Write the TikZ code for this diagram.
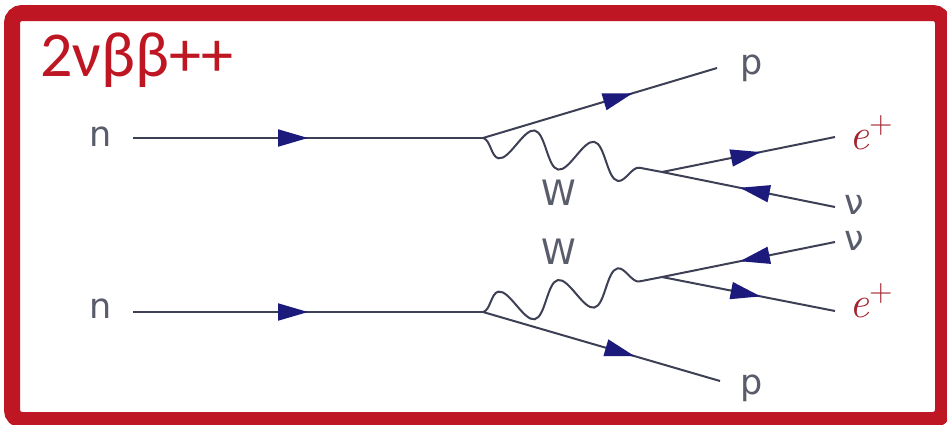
\documentclass[tikz,border=0pt]{standalone}
\usepackage{fontspec}
\setmainfont{DejaVu Sans}
\newfontfamily\titlefont{Carlito}
\newfontfamily\mathlikefont{Latin Modern Roman}
\newcommand{\eplus}{{\itshape e}\raisebox{16pt}{\fontsize{32}{32}\selectfont +}}
\usetikzlibrary{arrows.meta,decorations.markings,decorations.pathmorphing}
\definecolor{framered}{HTML}{BE1622}
\definecolor{posred}{HTML}{A2242F}
\definecolor{labelgray}{HTML}{595C6A}
\definecolor{linegray}{HTML}{3D4055}
\definecolor{arrownavy}{HTML}{1C1A7A}

\begin{document}
\begin{tikzpicture}[x=1pt,y=-1pt,
  every node/.style={font=\fontsize{35}{35}\selectfont,text=labelgray,inner sep=0pt},
  positron/.style={text=posred,font=\mathlikefont\fontsize{44}{44}\selectfont},
  fermion/.style={draw=linegray,line width=2pt,postaction=decorate,
    decoration={markings,mark=at position #1 with
      {\arrow[arrownavy]{Triangle[length=30pt,width=17pt]}}}},
  fermion/.default=0.55,
  boson/.style={draw=linegray,line width=2pt,decorate,
    decoration={snake,segment length=60.7pt,amplitude=#1}}]
  \path[use as bounding box,fill=white] (0,0) rectangle (947,424);
  \draw[framered,line width=16pt,rounded corners=10pt] (12,13) rectangle (943,420);
  \node[anchor=base west,text=framered,font=\titlefont\fontsize{64}{64}\selectfont]
    (title) at (40,76) {2νββ++};
  % upper neutron
  \coordinate (in1) at (133,138);
  \coordinate (v1) at (483,138);
  \coordinate (w1) at (662,172);
  \coordinate (pout1) at (717,68);
  \coordinate (eout1) at (835,137);
  \coordinate (nuout1) at (835,207);
  \node (n1) at (101,137) {n};
  \node (p1) at (752,68) {p};
  \node (W1) at (559,193) {W};
  \node[positron] (e1) at (871,133) {\eplus};
  \node (nu1) at (854,205) {ν};
  \draw[fermion=0.5] (in1) -- (v1);
  \draw[fermion=0.64] (v1) -- (pout1);
  \draw[boson=-17pt] (v1) -- (w1);
  \draw[fermion=0.57] (w1) -- (eout1);
  \draw[fermion] (nuout1) -- (w1);
  % lower neutron
  \coordinate (in2) at (133,312);
  \coordinate (v2) at (483,312);
  \coordinate (w2) at (662,277);
  \coordinate (pout2) at (720,381);
  \coordinate (nuout2) at (835,242);
  \coordinate (eout2) at (835,311);
  \node (n2) at (101,309) {n};
  \node (p2) at (752,388) {p};
  \node (W2) at (559,252) {W};
  \node (nu2) at (854,241) {ν};
  \node[positron] (e2) at (871,301) {\eplus};
  \draw[fermion=0.5] (in2) -- (v2);
  \draw[fermion=0.64] (v2) -- (pout2);
  \draw[boson=17pt] (v2) -- (w2);
  \draw[fermion] (nuout2) -- (w2);
  \draw[fermion=0.57] (w2) -- (eout2);
\end{tikzpicture}
\end{document}
